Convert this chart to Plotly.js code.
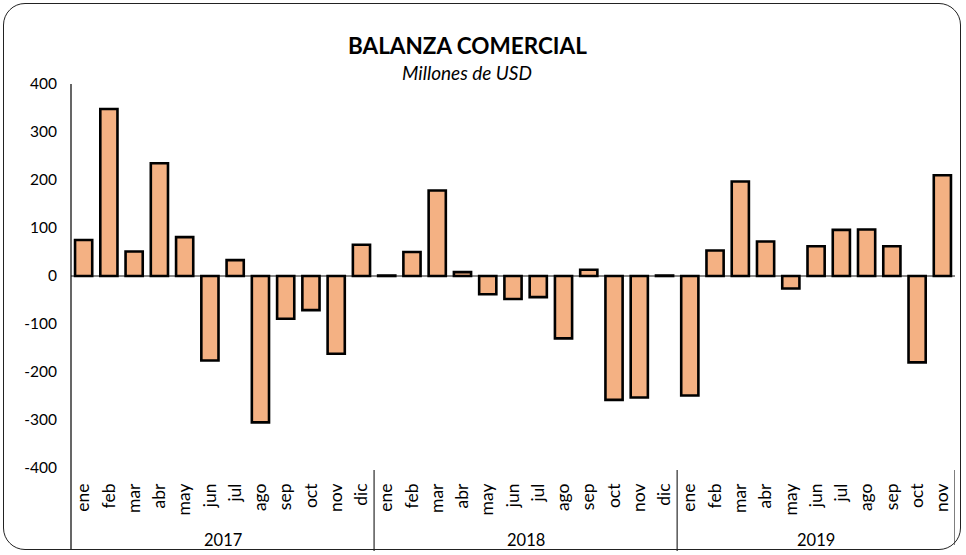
<!DOCTYPE html>
<html>
<head>
<meta charset="utf-8">
<script src="https://cdn.plot.ly/plotly-3.0.1.min.js"></script>
<style>
  html, body { margin: 0; padding: 0; background: #fff; }
  #wrap { position: relative; width: 966px; height: 555px; }
  #chart { width: 966px; height: 555px; }
  #frame { position: absolute; left: 3px; top: 3px; width: 958px; height: 547px;
           border: 1.5px solid #222; border-radius: 22px; pointer-events: none; box-sizing: border-box; }
</style>
</head>
<body>
<div id="wrap">
  <div id="chart"></div>
  <div id="frame"></div>
</div>
<script>
const months2017 = ["ene","feb","mar","abr","may","jun","jul","ago","sep","oct","nov","dic"];
const months2018 = ["ene","feb","mar","abr","may","jun","jul","ago","sep","oct","nov","dic"];
const months2019 = ["ene","feb","mar","abr","may","jun","jul","ago","sep","oct","nov"];
const years = ["2017","2018","2019"];

const values2017 = [75, 348, 51, 235, 81, -176, 33, -305, -89, -71, -162, 65];
const values2018 = [1, 50, 178, 8, -38, -48, -44, -130, 13, -258, -253, 1];
const values2019 = [-249, 53, 197, 72, -26, 62, 96, 97, 62, -180, 210];

const yTickVals = [-400, -300, -200, -100, 0, 100, 200, 300, 400];
const yTickText = ["-400", "-300", "-200", "-100", "0", "100", "200", "300", "400"];

const monthGroups = [months2017, months2018, months2019];
const valueGroups = [values2017, values2018, values2019];

const xCats = [], xMonth = [], yVals = [];
const groupStart = [], groupEnd = [];
monthGroups.forEach((ms, g) => {
  groupStart.push(xCats.length);
  ms.forEach((m, i) => {
    xCats.push(m + " " + years[g]);
    xMonth.push(m);
    yVals.push(valueGroups[g][i]);
  });
  groupEnd.push(xCats.length - 1);
});

// pixel helpers for plot area (style only)
const L = 71, R = 955, T = 84, B = 468;
const px2x = p => (p - L) / (R - L);
const px2y = p => (B - p) / (B - T);
const FONT = 'Lato, "Open Sans", sans-serif';

const trace = {
  type: 'bar',
  x: xCats,
  y: yVals,
  width: 0.68,
  marker: { color: '#F4B183', line: { color: '#000', width: 2.6 } },
  hoverinfo: 'y'
};

const shapes = [
  { type: 'line', xref: 'paper', yref: 'paper', x0: 0, x1: 0, y0: 1, y1: px2y(549),
    line: { color: '#000', width: 1.2 } }
];
// year dividers (after each group)
groupEnd.forEach((e, g) => {
  const last = g === groupEnd.length - 1;
  shapes.push({ type: 'line', xref: 'x', yref: 'paper', x0: e + 0.5, x1: e + 0.5,
    y0: px2y(470), y1: px2y(last ? 545 : 551), line: { color: '#555', width: 1.5 } });
});

const annotations = [
  { text: '<b>BALANZA COMERCIAL</b>', xref: 'paper', yref: 'paper',
    x: px2x(467), y: px2y(45), showarrow: false, xanchor: 'center', yanchor: 'middle',
    font: { size: 22.5, family: FONT } },
  { text: '<i>Millones de USD</i>', xref: 'paper', yref: 'paper',
    x: px2x(467), y: px2y(72), showarrow: false, xanchor: 'center', yanchor: 'middle',
    font: { size: 19, family: FONT } }
];
years.forEach((yr, g) => {
  annotations.push({ text: yr, xref: 'x', yref: 'paper',
    x: (groupStart[g] + groupEnd[g]) / 2, y: px2y(540), showarrow: false,
    xanchor: 'center', yanchor: 'middle', font: { size: 16.5, family: FONT } });
});

const layout = {
  width: 966, height: 555,
  margin: { l: L, r: 966 - R, t: T, b: 555 - B },
  paper_bgcolor: 'rgba(0,0,0,0)',
  plot_bgcolor: 'rgba(0,0,0,0)',
  font: { family: FONT, color: '#000', size: 15 },
  showlegend: false,
  xaxis: {
    type: 'category',
    range: [-0.5, xCats.length - 0.5],
    tickvals: xCats,
    ticktext: xMonth,
    tickangle: -90,
    showgrid: false,
    zeroline: false,
    showline: false,
    ticks: '',
    ticklabelstandoff: 11,
    tickfont: { size: 17.5, family: FONT }
  },
  yaxis: {
    range: [-400, 400],
    tickvals: yTickVals,
    ticktext: yTickText,
    showgrid: false,
    zeroline: true,
    zerolinecolor: '#888',
    zerolinewidth: 2,
    showline: false,
    ticks: '',
    ticklabelstandoff: 13,
    tickfont: { size: 15.5, family: FONT }
  },
  shapes: shapes,
  annotations: annotations
};

Plotly.newPlot('chart', [trace], layout, { displayModeBar: false, staticPlot: true });
</script>
</body>
</html>
